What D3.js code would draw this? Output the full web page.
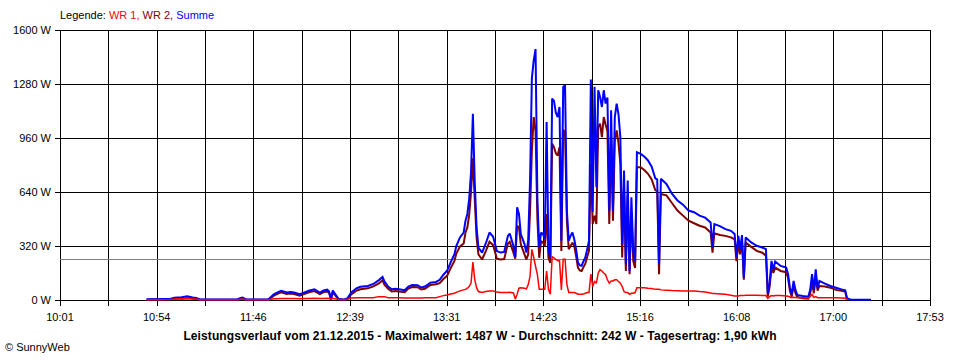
<!DOCTYPE html>
<html><head><meta charset="utf-8">
<script src="https://cdn.jsdelivr.net/npm/d3@7"></script>
<style>
html,body{margin:0;padding:0;background:#fff;}
svg{display:block;font-family:"Liberation Sans",Arial,sans-serif;}
</style></head>
<body><svg id="c" width="960" height="360"></svg>
<script>
// ---- data ----
const timeTickLabels = ["10:01","10:54","11:46","12:39","13:31","14:23","15:16","16:08","17:00","17:53"];
const yTickValues = [0, 320, 640, 960, 1280, 1600];
const average = 242;
const titleText = "Leistungsverlauf vom 21.12.2015 - Maximalwert: 1487 W - Durchschnitt: 242 W - Tagesertrag: 1,90 kWh";
const legendItems = [
  {label: "WR 1", color: "#ff0000"},
  {label: "WR 2", color: "#800000"},
  {label: "Summe", color: "#0000ff"}
];
const times = ["10:48","10:55","11:01","11:03","11:07","11:10","11:13","11:15","11:17","11:37","11:39","11:40","11:42","11:54","11:57","11:59","12:01","12:04","12:06","12:08","12:11","12:13","12:16","12:19","12:22","12:24","12:26","12:27","12:28","12:29","12:30","12:32","12:35","12:37","12:39","12:42","12:44","12:48","12:51","12:54","12:56","12:57","12:59","13:01","13:03","13:05","13:08","13:10","13:12","13:15","13:17","13:19","13:22","13:25","13:27","13:29","13:31","13:33","13:35","13:36","13:38","13:40","13:41","13:42","13:43","13:44","13:45","13:46","13:47","13:48","13:50","13:52","13:54","13:56","13:58","14:00","14:02","14:04","14:05","14:07","14:08","14:09","14:10","14:11","14:13","14:14","14:15","14:16","14:17","14:18","14:19","14:20","14:21","14:22","14:23","14:24","14:25","14:26","14:27","14:28","14:29","14:30","14:31","14:32","14:33","14:34","14:35","14:36","14:37","14:38","14:39","14:40","14:41","14:42","14:43","14:44","14:45","14:46","14:47","14:48","14:49","14:50","14:51","14:52","14:53","14:54","14:55","14:56","14:57","14:58","14:59","15:00","15:01","15:02","15:03","15:04","15:05","15:06","15:07","15:08","15:09","15:10","15:11","15:12","15:13","15:14","15:16","15:18","15:20","15:22","15:24","15:25","15:26","15:27","15:30","15:33","15:36","15:39","15:42","15:45","15:48","15:51","15:54","15:55","15:56","15:59","16:02","16:05","16:07","16:08","16:09","16:10","16:11","16:12","16:13","16:16","16:19","16:22","16:24","16:25","16:26","16:27","16:28","16:29","16:32","16:35","16:36","16:37","16:38","16:39","16:40","16:41","16:44","16:47","16:48","16:49","16:50","16:51","16:52","16:53","16:56","16:59","17:02","17:05","17:07","17:08","17:10","17:21"];
const wr1 = [1,1,3,6,8,10,7,6,1,1,5,6,1,1,8,8,9,9,9,9,8,9,9,10,9,9,10,9,3,10,8,4,1,4,12,14,14,14,14,20,20,20,14,13,13,13,12,12,12,12,12,13,14,14,20,26,30,35,40,45,54,60,63,70,80,100,225,120,73,50,44,50,54,54,48,44,44,44,46,42,5,34,70,73,70,65,90,140,300,252,200,150,63,63,63,63,172,63,34,256,250,240,232,232,60,242,242,93,44,44,44,44,40,34,34,34,35,40,44,44,153,80,110,100,160,180,172,160,150,120,100,113,113,120,120,110,100,80,50,44,44,34,40,40,44,73,73,73,70,68,63,63,63,60,58,56,55,54,54,54,50,48,42,38,38,36,34,28,24,24,24,26,26,26,28,28,28,26,26,10,20,26,24,26,26,24,22,18,14,16,15,14,14,13,20,34,15,20,14,14,14,14,14,12,10,3,null,null];
const wr2 = [3,4,5,8,8,11,8,6,2,2,7,8,2,2,26,37,45,35,39,35,26,33,46,53,35,47,51,41,3,46,32,4,1,6,33,56,64,69,81,98,117,90,66,51,53,51,46,68,77,76,62,67,89,93,100,124,143,190,232,275,317,335,400,430,505,640,840,600,370,270,240,290,345,325,245,240,243,335,345,280,245,440,430,330,270,240,270,520,886,1084,1000,480,250,350,340,320,510,250,220,926,906,870,856,906,290,1005,1000,470,301,320,340,320,260,192,175,172,195,215,255,291,807,450,500,450,1025,1045,965,1084,1040,1000,450,955,470,945,1005,930,807,252,650,172,620,153,520,230,190,787,787,770,748,715,650,645,153,628,620,575,530,500,470,455,440,430,400,281,395,385,380,371,360,230,330,270,350,120,340,315,291,280,262,20,80,192,160,192,172,165,130,55,20,90,40,18,10,8,40,100,40,140,55,83,80,73,60,54,50,2,null,null];
const summe = [4,5,8,14,16,22,15,12,3,3,12,14,3,3,34,45,54,44,48,44,34,42,55,63,44,56,61,50,6,56,40,8,2,10,45,70,78,83,95,118,137,110,80,64,66,64,58,80,89,88,74,80,103,107,120,150,173,225,272,320,371,400,470,510,600,760,1104,700,430,311,281,335,400,375,290,281,285,380,394,320,255,549,510,391,331,281,351,700,1313,1420,1487,600,311,400,391,360,1055,300,252,1194,1180,1110,1084,1144,351,1263,1273,529,351,380,400,360,300,222,205,202,230,252,300,351,1307,522,1263,668,1243,1203,1144,1243,1164,1200,529,1124,529,1084,1164,1100,965,331,767,212,708,172,608,290,232,876,866,850,827,790,720,715,212,718,688,630,590,565,530,520,500,488,460,311,450,438,420,410,391,252,380,300,385,133,371,341,321,311,301,40,100,232,180,228,202,192,153,73,34,113,60,30,24,20,60,153,60,182,70,113,97,83,73,63,58,10,2,2];

// ---- chart ----
const svg = d3.select("#c");
const toMin = s => (+s.slice(0,2))*60 + (+s.slice(3));
const tStart = toMin(timeTickLabels[0]), tEnd = toMin(timeTickLabels[timeTickLabels.length-1]);
const x = d3.scaleLinear().domain([tStart, tEnd]).range([60, 930]);
const y = d3.scaleLinear().domain([0, 1600]).range([300, 30]);
const nInt = (timeTickLabels.length - 1) * 2;
const gridT = d3.range(nInt + 1).map(i => tStart + i * (tEnd - tStart) / nInt);
const px = v => Math.round(v) + 0.5;

// grid
const g = svg.append("g").attr("stroke", "#000").attr("stroke-width", 1).attr("shape-rendering", "crispEdges");
gridT.forEach(t => g.append("line").attr("x1", px(x(t))).attr("x2", px(x(t))).attr("y1", y(1600)).attr("y2", y(0) + 6));
yTickValues.forEach(v => g.append("line").attr("x1", 55).attr("x2", px(x(tEnd)) + 0.5).attr("y1", px(y(v))).attr("y2", px(y(v))));

// average line
svg.append("line").attr("x1", x(tStart)).attr("x2", x(tEnd)).attr("y1", px(y(average))).attr("y2", px(y(average)))
  .attr("stroke", "#808080").attr("stroke-width", 1).attr("shape-rendering", "crispEdges");

// series
const tm = times.map(toMin);
const mk = arr => d3.line().defined((d, i) => arr[i] != null)
  .x((d, i) => x(tm[i])).y((d, i) => y(arr[i])).curve(d3.curveLinear)(times);
svg.append("path").attr("d", mk(wr2)).attr("fill", "none").attr("stroke", "#800000").attr("stroke-width", 2).attr("stroke-linejoin", "miter").attr("stroke-miterlimit", 2);
svg.append("path").attr("d", mk(summe)).attr("fill", "none").attr("stroke", "#0000ff").attr("stroke-width", 2).attr("stroke-linejoin", "miter").attr("stroke-miterlimit", 2);
svg.append("path").attr("d", mk(wr1)).attr("fill", "none").attr("stroke", "#ff0000").attr("stroke-width", 1.5).attr("stroke-linejoin", "miter").attr("stroke-miterlimit", 2);

// y labels
yTickValues.forEach(v => svg.append("text").attr("x", 51).attr("y", y(v)).attr("dy", "0.35em")
  .attr("text-anchor", "end").attr("font-size", 11).attr("fill", "#000").text(v + " W"));

// x labels
timeTickLabels.forEach((lab, i) => svg.append("text").attr("x", x(gridT[i * 2])).attr("y", 321)
  .attr("text-anchor", "middle").attr("font-size", 11).attr("fill", "#000").text(lab));

// legend
const lg = svg.append("text").attr("x", 60).attr("y", 19).attr("font-size", 11);
lg.append("tspan").attr("fill", "#000").text("Legende: ");
legendItems.forEach((it, i) => lg.append("tspan").attr("fill", it.color)
  .text(it.label + (i < legendItems.length - 1 ? ", " : "")));

// title
svg.append("text").attr("x", 480).attr("y", 340).attr("text-anchor", "middle")
  .attr("font-size", 12).attr("font-weight", "bold").attr("letter-spacing", 0.1).attr("fill", "#000").text(titleText);
svg.append("text").attr("x", 5).attr("y", 351).attr("font-size", 11).attr("fill", "#000").text("\u00A9 SunnyWeb");
</script></body></html>
